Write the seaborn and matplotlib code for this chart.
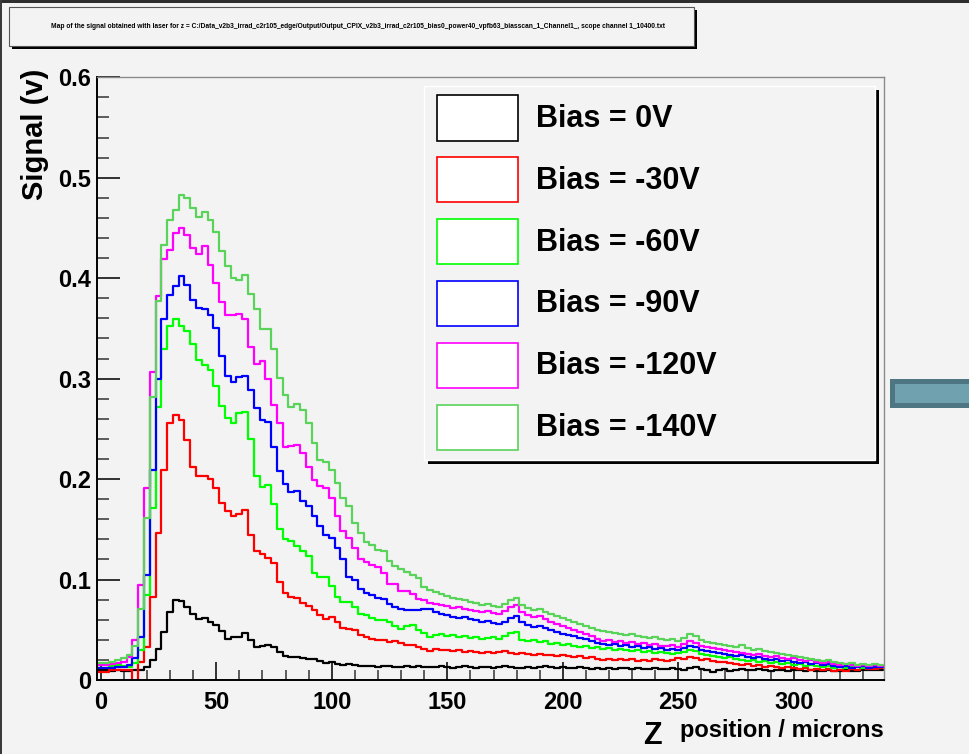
#%% import libraries
import numpy as np
import pandas as pd
import seaborn as sns
import matplotlib.pyplot as plt
from matplotlib import font_manager
from matplotlib.patches import Rectangle

#%% data: signal (V) per 2.5 micron bin
bias_labels = ['Bias = 0V', 'Bias = -30V', 'Bias = -60V',
               'Bias = -90V', 'Bias = -120V', 'Bias = -140V']
bias_colors = ['#000000', '#ff0000', '#00ff00', '#0000ff', '#ff00ff', '#5ad35a']

bin_width = 2.5
z_centers = np.arange(136) * bin_width
z_edges = list(np.append(z_centers - bin_width / 2, z_centers[-1] + bin_width / 2))

sig_0v = [
    0.010, 0.010, 0.009, 0.010, 0.009, 0.009, 0.010, 0.010, 0.013, 0.020,
    0.031, 0.048, 0.068, 0.080, 0.079, 0.073, 0.066, 0.061, 0.062, 0.058,
    0.055, 0.049, 0.041, 0.043, 0.043, 0.047, 0.040, 0.033, 0.034, 0.035,
    0.033, 0.028, 0.024, 0.023, 0.023, 0.022, 0.021, 0.021, 0.019, 0.017,
    0.018, 0.016, 0.015, 0.016, 0.015, 0.014, 0.014, 0.014, 0.013, 0.014,
    0.014, 0.013, 0.013, 0.014, 0.013, 0.014, 0.013, 0.013, 0.013, 0.014,
    0.013, 0.012, 0.013, 0.014, 0.013, 0.012, 0.013, 0.013, 0.012, 0.013,
    0.014, 0.013, 0.012, 0.012, 0.013, 0.012, 0.013, 0.014, 0.013, 0.012,
    0.013, 0.012, 0.012, 0.013, 0.012, 0.011, 0.012, 0.011, 0.012, 0.011,
    0.012, 0.012, 0.011, 0.012, 0.011, 0.011, 0.012, 0.011, 0.011, 0.012,
    0.011, 0.010, 0.012, 0.013, 0.011, 0.010, 0.008, 0.010, 0.011, 0.009,
    0.010, 0.011, 0.010, 0.010, 0.011, 0.010, 0.009, 0.010, 0.010, 0.009,
    0.010, 0.010, 0.009, 0.010, 0.009, 0.009, 0.010, 0.009, 0.009, 0.010,
    0.009, 0.009, 0.010, 0.010, 0.010, 0.010]

sig_30v = [
    0.008, 0.008, 0.010, 0.010, 0.010, 0.010, -0.010, 0.018, 0.033, 0.083,
    0.146, 0.209, 0.256, 0.264, 0.259, 0.239, 0.212, 0.203, 0.203, 0.200,
    0.191, 0.176, 0.168, 0.163, 0.165, 0.169, 0.144, 0.128, 0.125, 0.121,
    0.116, 0.098, 0.087, 0.083, 0.082, 0.077, 0.074, 0.070, 0.065, 0.061,
    0.063, 0.058, 0.052, 0.051, 0.050, 0.045, 0.043, 0.041, 0.040, 0.040,
    0.038, 0.039, 0.037, 0.035, 0.035, 0.033, 0.031, 0.029, 0.031, 0.030,
    0.030, 0.029, 0.030, 0.028, 0.029, 0.028, 0.027, 0.028, 0.027, 0.028,
    0.029, 0.027, 0.026, 0.027, 0.026, 0.025, 0.026, 0.025, 0.025, 0.024,
    0.025, 0.024, 0.023, 0.024, 0.022, 0.023, 0.021, 0.020, 0.021, 0.020,
    0.021, 0.020, 0.021, 0.019, 0.020, 0.019, 0.021, 0.020, 0.019, 0.020,
    0.022, 0.021, 0.023, 0.022, 0.020, 0.021, 0.019, 0.018, 0.018, 0.017,
    0.016, 0.015, 0.016, 0.014, 0.015, 0.013, 0.014, 0.013, 0.012, 0.013,
    0.012, 0.011, 0.012, 0.010, 0.011, 0.010, 0.011, 0.009, 0.010, 0.009,
    0.011, 0.010, 0.012, 0.011, 0.011, 0.012]

sig_60v = [
    0.015, 0.015, 0.014, 0.015, 0.014, 0.013, 0.017, 0.030, 0.085, 0.171,
    0.272, 0.330, 0.352, 0.359, 0.352, 0.347, 0.334, 0.319, 0.314, 0.309,
    0.293, 0.273, 0.261, 0.256, 0.266, 0.267, 0.240, 0.203, 0.192, 0.194,
    0.175, 0.150, 0.140, 0.138, 0.133, 0.128, 0.123, 0.107, 0.103, 0.103,
    0.094, 0.083, 0.078, 0.078, 0.073, 0.066, 0.065, 0.062, 0.060, 0.060,
    0.058, 0.054, 0.051, 0.054, 0.055, 0.050, 0.047, 0.043, 0.045, 0.046,
    0.044, 0.045, 0.043, 0.044, 0.042, 0.043, 0.041, 0.042, 0.043, 0.041,
    0.044, 0.047, 0.048, 0.040, 0.039, 0.040, 0.038, 0.039, 0.036, 0.037,
    0.035, 0.036, 0.034, 0.033, 0.034, 0.032, 0.033, 0.031, 0.032, 0.030,
    0.031, 0.030, 0.029, 0.030, 0.028, 0.029, 0.027, 0.028, 0.027, 0.026,
    0.027, 0.028, 0.030, 0.029, 0.026, 0.025, 0.024, 0.023, 0.022, 0.023,
    0.021, 0.020, 0.019, 0.020, 0.018, 0.019, 0.017, 0.018, 0.016, 0.017,
    0.015, 0.016, 0.014, 0.015, 0.014, 0.013, 0.014, 0.012, 0.013, 0.012,
    0.013, 0.014, 0.012, 0.013, 0.014, 0.013]

sig_90v = [
    0.012, 0.012, 0.012, 0.013, 0.013, 0.015, 0.022, 0.043, 0.105, 0.209,
    0.300, 0.359, 0.383, 0.392, 0.402, 0.393, 0.378, 0.370, 0.369, 0.363,
    0.350, 0.323, 0.303, 0.297, 0.302, 0.303, 0.289, 0.271, 0.259, 0.257,
    0.232, 0.208, 0.195, 0.187, 0.188, 0.178, 0.173, 0.163, 0.153, 0.144,
    0.141, 0.131, 0.120, 0.103, 0.100, 0.091, 0.087, 0.085, 0.082, 0.081,
    0.076, 0.073, 0.071, 0.070, 0.070, 0.070, 0.071, 0.071, 0.068, 0.066,
    0.065, 0.063, 0.062, 0.063, 0.061, 0.060, 0.058, 0.059, 0.057, 0.056,
    0.058, 0.062, 0.064, 0.058, 0.055, 0.053, 0.054, 0.052, 0.050, 0.048,
    0.046, 0.045, 0.044, 0.042, 0.041, 0.039, 0.037, 0.036, 0.035, 0.036,
    0.034, 0.035, 0.033, 0.034, 0.032, 0.033, 0.031, 0.032, 0.030, 0.031,
    0.030, 0.032, 0.034, 0.033, 0.030, 0.029, 0.028, 0.027, 0.026, 0.025,
    0.024, 0.025, 0.023, 0.022, 0.023, 0.021, 0.020, 0.021, 0.019, 0.020,
    0.018, 0.017, 0.018, 0.016, 0.017, 0.015, 0.016, 0.014, 0.013, 0.014,
    0.012, 0.013, 0.014, 0.012, 0.013, 0.013]

sig_120v = [
    0.015, 0.015, 0.016, 0.017, 0.018, 0.023, 0.040, 0.095, 0.191, 0.307,
    0.382, 0.419, 0.428, 0.445, 0.450, 0.443, 0.430, 0.424, 0.432, 0.413,
    0.395, 0.376, 0.363, 0.363, 0.364, 0.359, 0.332, 0.315, 0.318, 0.300,
    0.274, 0.256, 0.232, 0.233, 0.234, 0.226, 0.212, 0.199, 0.193, 0.191,
    0.181, 0.163, 0.148, 0.141, 0.131, 0.120, 0.117, 0.114, 0.112, 0.107,
    0.096, 0.096, 0.089, 0.089, 0.086, 0.081, 0.080, 0.077, 0.076, 0.075,
    0.074, 0.072, 0.073, 0.071, 0.070, 0.069, 0.068, 0.069, 0.067, 0.066,
    0.069, 0.073, 0.075, 0.068, 0.065, 0.063, 0.064, 0.061, 0.058, 0.056,
    0.054, 0.052, 0.050, 0.048, 0.046, 0.044, 0.041, 0.039, 0.040, 0.038,
    0.039, 0.037, 0.038, 0.036, 0.037, 0.035, 0.036, 0.034, 0.034, 0.035,
    0.033, 0.036, 0.039, 0.037, 0.034, 0.033, 0.032, 0.031, 0.030, 0.029,
    0.028, 0.027, 0.026, 0.025, 0.026, 0.024, 0.023, 0.024, 0.022, 0.021,
    0.022, 0.020, 0.019, 0.020, 0.018, 0.017, 0.018, 0.016, 0.015, 0.016,
    0.015, 0.014, 0.015, 0.014, 0.015, 0.014]

sig_140v = [
    0.017, 0.017, 0.018, 0.020, 0.022, 0.025, 0.034, 0.071, 0.161, 0.282,
    0.377, 0.433, 0.458, 0.468, 0.483, 0.480, 0.470, 0.461, 0.466, 0.458,
    0.446, 0.427, 0.412, 0.400, 0.398, 0.403, 0.384, 0.369, 0.349, 0.349,
    0.330, 0.301, 0.284, 0.272, 0.275, 0.269, 0.256, 0.236, 0.219, 0.217,
    0.209, 0.196, 0.181, 0.173, 0.156, 0.146, 0.137, 0.134, 0.129, 0.128,
    0.118, 0.113, 0.111, 0.108, 0.105, 0.102, 0.093, 0.090, 0.088, 0.086,
    0.084, 0.082, 0.081, 0.080, 0.078, 0.077, 0.075, 0.076, 0.074, 0.073,
    0.076, 0.080, 0.082, 0.075, 0.072, 0.070, 0.071, 0.068, 0.066, 0.064,
    0.062, 0.060, 0.058, 0.056, 0.054, 0.052, 0.050, 0.049, 0.048, 0.047,
    0.046, 0.045, 0.046, 0.044, 0.043, 0.042, 0.043, 0.041, 0.040, 0.041,
    0.039, 0.042, 0.046, 0.044, 0.040, 0.038, 0.037, 0.036, 0.035, 0.034,
    0.033, 0.035, 0.032, 0.030, 0.031, 0.029, 0.028, 0.027, 0.026, 0.025,
    0.024, 0.023, 0.022, 0.021, 0.020, 0.019, 0.020, 0.018, 0.017, 0.016,
    0.017, 0.015, 0.016, 0.015, 0.016, 0.015]

series = [sig_0v, sig_30v, sig_60v, sig_90v, sig_120v, sig_140v]

x_ticks = [0, 50, 100, 150, 200, 250, 300]
y_ticks = [0, 0.1, 0.2, 0.3, 0.4, 0.5, 0.6]
y_tick_labels = ['0', '0.1', '0.2', '0.3', '0.4', '0.5', '0.6']

title_text = ('Map of the signal obtained with laser for z = '
              'C:/Data_v2b3_irrad_c2r105_edge/Output/Output_CPIX_v2b3_irrad_c2r105_'
              'bias0_power40_vpfb63_biasscan_1_Channel1_, scope channel 1_10400.txt')

#%% helpers (pixel -> figure fraction)
W, H = 970, 754
bg = '#f3f3f3'

def fx(px):
    return px / W

def fy(py):
    return 1 - py / H

def box(x0, y0, x1, y1, **kw):
    return Rectangle((fx(x0), fy(y1)), fx(x1) - fx(x0), fy(y0) - fy(y1),
                     transform=fig.transFigure, **kw)

#%% plot
sns.set_theme(style='ticks')
plt.rcParams['font.family'] = ['Liberation Sans', 'DejaVu Sans']
plt.rcParams['font.weight'] = 'bold'
plt.rcParams['text.color'] = 'black'
plt.rcParams['xtick.color'] = 'black'
plt.rcParams['ytick.color'] = 'black'
plt.rcParams['xtick.labelcolor'] = 'black'
plt.rcParams['ytick.labelcolor'] = 'black'

# legend text in the original is a tall, narrow bold face
installed = {f.name for f in font_manager.fontManager.ttflist}
if 'Liberation Sans Narrow' in installed:
    legend_font, legend_size = ['Liberation Sans Narrow', 'DejaVu Sans'], 26
else:
    legend_font, legend_size = ['Liberation Sans', 'DejaVu Sans'], 22

df = pd.DataFrame({
    'z': np.tile(z_centers, len(series)),
    'signal': np.concatenate(series),
    'bias': np.repeat(bias_labels, len(z_centers)),
})

fig = plt.figure(figsize=(9.7, 7.54), dpi=100, facecolor=bg)
ax = fig.add_axes([fx(97), fy(680), fx(884) - fx(97), fy(77.3) - fy(680)])
ax.set_facecolor(bg)

for label, color in zip(bias_labels, bias_colors):
    sub = df[df['bias'] == label]
    sns.histplot(data=sub, x='z', weights='signal', bins=z_edges,
                 element='step', fill=False, color=color, linewidth=1.6, ax=ax)

ax.set_xlim(-1.6, 339)
ax.set_ylim(0, 0.6)
ax.set_xlabel('')
ax.set_ylabel('')

ax.set_xticks(x_ticks)
ax.set_xticklabels([str(t) for t in x_ticks])
ax.set_xticks(np.arange(0, 340, 10), minor=True)
ax.set_yticks(y_ticks)
ax.set_yticklabels(y_tick_labels)
ax.set_yticks(np.arange(0, 0.6, 0.02), minor=True)

ax.tick_params(axis='x', which='major', direction='in', length=13, width=1.2,
               pad=8, labelsize=17, top=False, color='#111111')
ax.tick_params(axis='x', which='minor', direction='in', length=7, width=1.1,
               top=False, color='#333333')
ax.tick_params(axis='y', which='major', direction='in', length=16.5, width=1.2,
               pad=4, labelsize=17, right=False, color='#111111')
ax.tick_params(axis='y', which='minor', direction='in', length=8.5, width=1.1,
               right=False, color='#333333')

for side in ['left', 'bottom']:
    ax.spines[side].set_color('black')
    ax.spines[side].set_linewidth(1.4)
for side in ['top', 'right']:
    ax.spines[side].set_visible(True)
    ax.spines[side].set_color('#8a8a8a')
    ax.spines[side].set_linewidth(1.0)

# axis titles
fig.text(fx(35), fy(134), 'Signal (v)', rotation=90, ha='center', va='center',
         fontsize=21)
fig.text(fx(652), fy(744), 'Z', ha='center', va='baseline', fontsize=22)
fig.text(fx(884), fy(737), 'position / microns', ha='right', va='baseline',
         fontsize=17)

# title box with shadow
fig.add_artist(box(12, 10, 697, 49, facecolor='black', edgecolor='none'))
fig.add_artist(box(9, 7, 694, 46, facecolor=bg, edgecolor='#555555', lw=0.8))
fig.text(fx(358), fy(27), title_text, ha='center', va='center', fontsize=4.8)

# legend box with shadow
fig.add_artist(box(428, 90, 879, 464, facecolor='black', edgecolor='none'))
fig.add_artist(box(424, 86, 875, 460, facecolor=bg, edgecolor='white', lw=1))
for i, (label, color) in enumerate(zip(bias_labels, bias_colors)):
    yc = 118 + 61.8 * i
    fig.add_artist(box(437, yc - 22.5, 518, yc + 22.5, facecolor='white',
                       edgecolor=color, lw=1.2))
    fig.text(fx(536), fy(yc + 1), label, ha='left', va='center',
             fontsize=legend_size, family=legend_font)

# screen decorations around the canvas
fig.add_artist(box(0, 0, 970, 3, facecolor='#2e2e2e', edgecolor='none'))
fig.add_artist(box(0, 0, 2, 754, facecolor='#3a3a3a', edgecolor='none'))
fig.add_artist(box(890, 379, 970, 408, facecolor='#4e7682', edgecolor='none'))
fig.add_artist(box(895, 384, 970, 403, facecolor='#6fa2ae', edgecolor='none'))

fig.savefig('out.png', dpi=100, facecolor=bg)
